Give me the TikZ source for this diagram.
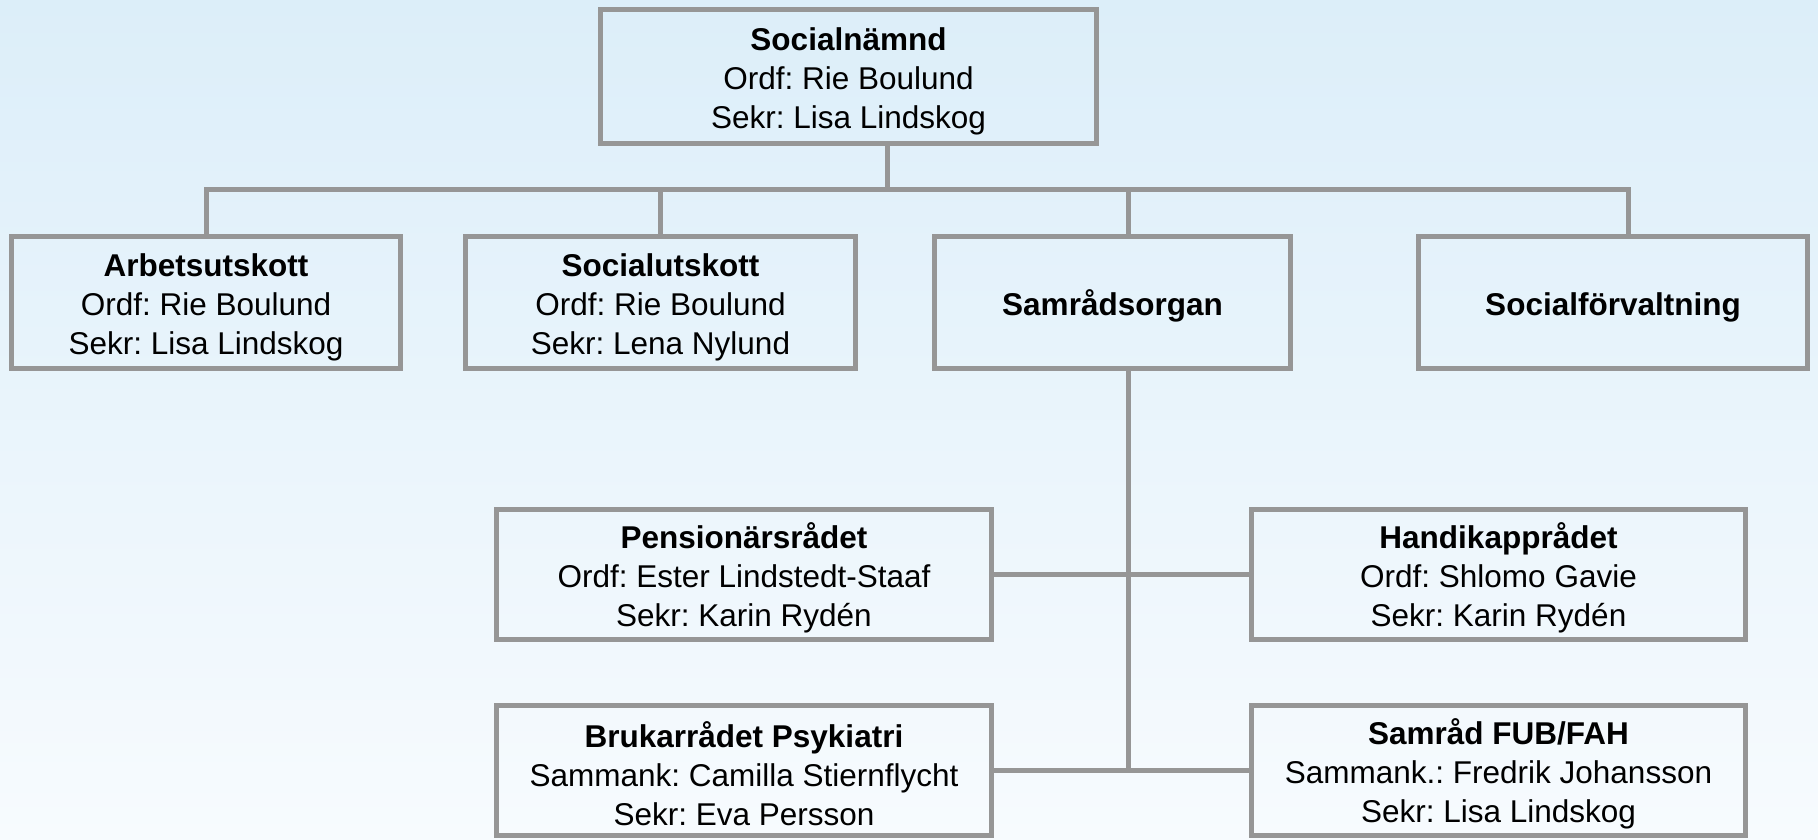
\documentclass[tikz,border=0pt]{standalone}
\usepackage{fontspec}
\setmainfont{Liberation Sans}
\frenchspacing
\definecolor{linegray}{HTML}{969696}
\definecolor{bgtop}{HTML}{DCEEF9}
\definecolor{bgbot}{HTML}{F7FBFE}
\newcommand\mytopstrut{\rule{0pt}{33pt}}
\begin{document}
\begin{tikzpicture}[x=1pt,y=-1pt,
  box/.style={draw=linegray, line width=5pt, align=center, inner sep=0pt,
    font=\fontsize{31.5}{39}\selectfont},
  conn/.style={draw=linegray, line width=5pt}]
\useasboundingbox (0,0) rectangle (1818,839);
\shade[top color=bgtop, bottom color=bgbot] (0,0) rectangle (1818,839);

\node[box, minimum width=496pt, minimum height=134pt] (top) at (848.5,76.5)
  {\mytopstrut\textbf{Socialnämnd}\\Ordf: Rie Boulund\\Sekr: Lisa Lindskog};

\node[box, minimum width=389pt, minimum height=132pt] (arb) at (206,302.5)
  {\mytopstrut\textbf{Arbetsutskott}\\Ordf: Rie Boulund\\Sekr: Lisa Lindskog};
\node[box, minimum width=390pt, minimum height=132pt] (soc) at (660.5,302.5)
  {\mytopstrut\textbf{Socialutskott}\\Ordf: Rie Boulund\\Sekr: Lena Nylund};
\node[box, minimum width=356pt, minimum height=132pt] (sam) at (1112.5,302.5)
  {\mytopstrut\textbf{Samrådsorgan}};
\node[box, minimum width=389pt, minimum height=132pt] (forv) at (1613,302.5)
  {\mytopstrut\textbf{Socialförvaltning}};

\node[box, minimum width=495pt, minimum height=130pt] (pens) at (744,574.5)
  {\mytopstrut\textbf{Pensionärsrådet}\\Ordf: Ester Lindstedt-Staaf\\Sekr: Karin Rydén};
\node[box, minimum width=494pt, minimum height=130pt] (hand) at (1498.5,574.5)
  {\mytopstrut\textbf{Handikapprådet}\\Ordf: Shlomo Gavie\\Sekr: Karin Rydén};
\node[box, minimum width=495pt, minimum height=130pt] (bruk) at (744,770.5)
  {\mytopstrut\textbf{Brukarrådet Psykiatri}\\Sammank: Camilla Stiernflycht\\Sekr: Eva Persson};
\node[box, minimum width=494pt, minimum height=130pt] (fub) at (1498.5,770.5)
  {\mytopstrut\textbf{Samråd FUB/FAH}\\Sammank.: Fredrik Johansson\\Sekr: Lisa Lindskog};

\coordinate (bl) at (206,189);
\coordinate (br) at (1628,189);
\coordinate (tj) at (887,189);
\coordinate (j2) at (660,189);
\coordinate (j3) at (1128,189);

\draw[conn] (arb.north -| bl) -- (bl) -- (br) -- (forv.north -| br);
\draw[conn] (top.south -| tj) -- (tj);
\draw[conn] (j2) -- (soc.north -| j2);
\draw[conn] (j3) -- (sam.north -| j3);

\draw[conn] (sam.south -| j3) -- (bruk.east -| j3);
\draw[conn] (pens.east) -- (pens.east -| j3);
\draw[conn] (hand.west) -- (hand.west -| j3);
\draw[conn] (bruk.east) -- (fub.west);
\end{tikzpicture}
\end{document}
